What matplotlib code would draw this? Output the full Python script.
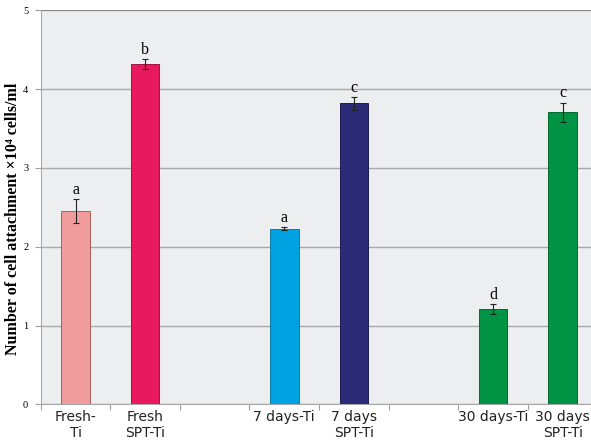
import matplotlib.pyplot as plt
import numpy as np

# data
labels = ["Fresh-\nTi", "Fresh\nSPT-Ti", "", "7 days-Ti", "7 days\nSPT-Ti", "", "30 days-Ti", "30 days\nSPT-Ti"]
values = [2.45, 4.32, None, 2.23, 3.82, None, 1.21, 3.71]
errors = [0.15, 0.06, None, 0.015, 0.08, None, 0.06, 0.12]
letters = ["a", "b", "", "a", "c", "", "d", "c"]
colors = ["#F19C9C", "#E8195F", None, "#00A1E1", "#2B2B78", None, "#009444", "#009444"]
edges = ["#A5605F", "#A0143F", None, "#107AA0", "#1C1C55", None, "#006A30", "#006A30"]

fig = plt.figure(figsize=(5.91, 4.45), dpi=100)
ax = fig.add_axes([0.0689, 0.0915, 0.942, 0.885])
ax.set_facecolor("#EDEEF0")

x = np.arange(len(labels))
for i in range(len(labels)):
    if values[i] is None:
        continue
    ax.bar(x[i], values[i], width=0.41, color=colors[i], edgecolor=edges[i], linewidth=0.7, zorder=3)
    ax.errorbar(x[i], values[i], yerr=errors[i], fmt="none", ecolor="#222222",
                elinewidth=0.8, capsize=2.5, capthick=0.8, zorder=4)
    ax.text(x[i], values[i] + errors[i] + 0.02, letters[i], ha="center", va="bottom",
            fontsize=11.5, family=["Liberation Serif", "DejaVu Serif"], zorder=5)

ax.set_xlim(-0.5, len(labels) - 0.5)
ax.set_ylim(0, 5)
ax.set_yticks(range(6))
ax.set_yticklabels([str(v) for v in range(6)], fontsize=7.5, family="Liberation Serif")
ax.yaxis.grid(True, color="#A8A8A8", linewidth=1.0, zorder=0)
ax.set_axisbelow(True)

ax.set_xticks(np.arange(-0.5, len(labels) - 0.5, 1.0))
ax.set_xticklabels([])
ax.set_xticks(x, minor=True)
ax.set_xticklabels(labels, minor=True, fontsize=10, family="DejaVu Sans", color="#222222")
ax.tick_params(axis="x", which="minor", length=0, pad=4)
ax.tick_params(axis="x", which="major", length=4, color="#A0A0A0", direction="out")
ax.tick_params(axis="y", length=4, color="#A0A0A0", pad=5)

for s in ["top", "right"]:
    ax.spines[s].set_visible(False)
ax.spines["left"].set_color("#A8A8A8")
ax.spines["bottom"].set_color("#A8A8A8")
ax.axhline(5, color="#808080", linewidth=1.2, zorder=1)

ax.set_ylabel("Number of cell attachment ×10⁴ cells/ml", fontsize=11.5, fontweight="bold",
              family=["Liberation Serif", "DejaVu Serif"])
ax.yaxis.set_label_coords(-0.036, 0.47)

fig.savefig("out.png", dpi=100)
